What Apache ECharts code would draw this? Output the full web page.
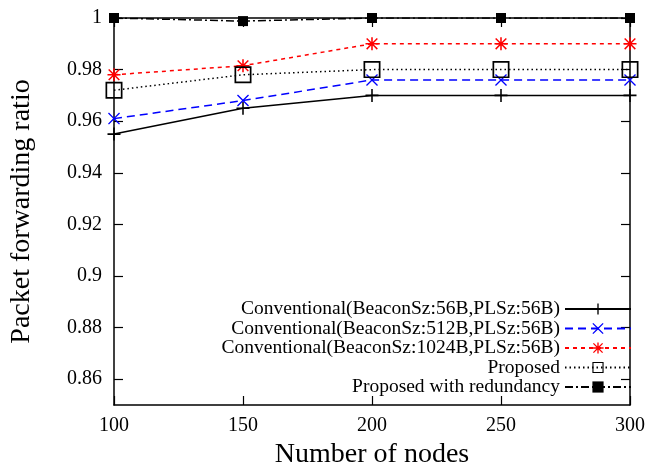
<!DOCTYPE html>
<html>
<head>
<meta charset="utf-8">
<script src="https://cdn.jsdelivr.net/npm/echarts@6/dist/echarts.min.js"></script>
<style>
  html, body { margin: 0; padding: 0; background: #fff; }
  #chart { width: 649px; height: 466px; }
</style>
</head>
<body>
<div id="chart"></div>
<script>
// number of nodes
let nodes = [100, 150, 200, 250, 300];
let yTicks = [0.86, 0.88, 0.9, 0.92, 0.94, 0.96, 0.98, 1];

let conv56 = [0.955, 0.965, 0.970, 0.970, 0.970];
let conv512 = [0.961, 0.968, 0.976, 0.976, 0.976];
let conv1024 = [0.978, 0.9815, 0.990, 0.990, 0.990];
let proposed = [0.972, 0.978, 0.980, 0.980, 0.980];
let redundancy = [1, 0.9988, 1, 1, 1];

let names = [
  'Conventional(BeaconSz:56B,PLSz:56B)',
  'Conventional(BeaconSz:512B,PLSz:56B)',
  'Conventional(BeaconSz:1024B,PLSz:56B)',
  'Proposed',
  'Proposed with redundancy'
];

let FONT = 'Liberation Serif';

// symbols
let plusPath = 'path://M0,4.4H10V5.6H0Z M4.4,0H5.6V10H4.4Z';
let crossPath = 'path://M0.8,0L5,4.2L9.2,0L10,0.8L5.8,5L10,9.2L9.2,10L5,5.8L0.8,10L0,9.2L4.2,5L0,0.8Z';
let starPath = 'path://M0,4.4H10V5.6H0Z M4.4,0H5.6V10H4.4Z M1.3,0.5L5,4.2L8.7,0.5L9.5,1.3L5.8,5L9.5,8.7L8.7,9.5L5,5.8L1.3,9.5L0.5,8.7L4.2,5L0.5,1.3Z';
let hollowSquare = 'path://M0,0H10V10H0Z M1,1V9H9V1Z';

function pairs(arr) {
  return nodes.map(function (n, i) {
    return [n, arr[i]];
  });
}

function makeSeries(name, data, color, dash, symbol, size) {
  return {
    name: name,
    type: 'line',
    data: pairs(data),
    symbol: symbol,
    symbolSize: size,
    showSymbol: true,
    color: color,
    lineStyle: {color: color, width: 1.5, type: dash},
    itemStyle: {color: color},
    z: 3
  };
}

let chart = echarts.init(document.getElementById('chart'));

let tickStyle = {show: true, inside: true, length: 9, lineStyle: {color: '#000', width: 1.2}};

let option = {
  animation: false,
  backgroundColor: '#fff',
  grid: {left: 114, right: 19, top: 18, bottom: 61, outerBoundsMode: 'none', containLabel: false},
  legend: {
    orient: 'vertical',
    align: 'right',
    right: 12,
    top: 294,
    itemWidth: 66,
    itemHeight: 14,
    itemGap: -0.5,
    textStyle: {fontFamily: FONT, fontSize: 19.5, color: '#000'},
    data: names
  },
  xAxis: [{
    type: 'value',
    min: 100,
    max: 300,
    interval: 50,
    name: 'Number of nodes',
    nameLocation: 'middle',
    nameGap: 33,
    nameTextStyle: {fontFamily: FONT, fontSize: 28, color: '#000'},
    axisLine: {show: true, lineStyle: {color: '#000', width: 1.5}},
    axisTick: tickStyle,
    axisLabel: {fontFamily: FONT, fontSize: 20, color: '#000', margin: 11},
    splitLine: {show: false}
  }, {
    type: 'value',
    position: 'top',
    min: 100,
    max: 300,
    interval: 50,
    axisLine: {show: true, lineStyle: {color: '#000', width: 1.5}},
    axisTick: tickStyle,
    axisLabel: {show: false},
    splitLine: {show: false}
  }],
  yAxis: [{
    type: 'value',
    min: 0.85,
    max: 1,
    name: 'Packet forwarding ratio',
    nameLocation: 'middle',
    nameGap: 78,
    nameTextStyle: {fontFamily: FONT, fontSize: 28, color: '#000'},
    axisLine: {show: true, lineStyle: {color: '#000', width: 1.5}},
    axisTick: Object.assign({customValues: yTicks}, tickStyle),
    axisLabel: {
      fontFamily: FONT, fontSize: 20, color: '#000', margin: 12,
      customValues: yTicks,
      formatter: function (v) {
        return String(Math.round(v * 100) / 100);
      }
    },
    splitLine: {show: false}
  }, {
    type: 'value',
    position: 'right',
    min: 0.85,
    max: 1,
    axisLine: {show: true, lineStyle: {color: '#000', width: 1.5}},
    axisTick: Object.assign({customValues: yTicks}, tickStyle),
    axisLabel: {show: false, customValues: yTicks},
    splitLine: {show: false}
  }],
  series: [
    makeSeries(names[0], conv56, '#000', 'solid', plusPath, 13),
    makeSeries(names[1], conv512, '#0000ff', [8, 5], crossPath, 12),
    makeSeries(names[2], conv1024, '#ff0000', [4, 4], starPath, 13),
    makeSeries(names[3], proposed, '#000', [1.5, 3], hollowSquare, 17),
    makeSeries(names[4], redundancy, '#000', [8, 3, 2, 3], 'rect', 10)
  ]
};

chart.setOption(option);
</script>
</body>
</html>
